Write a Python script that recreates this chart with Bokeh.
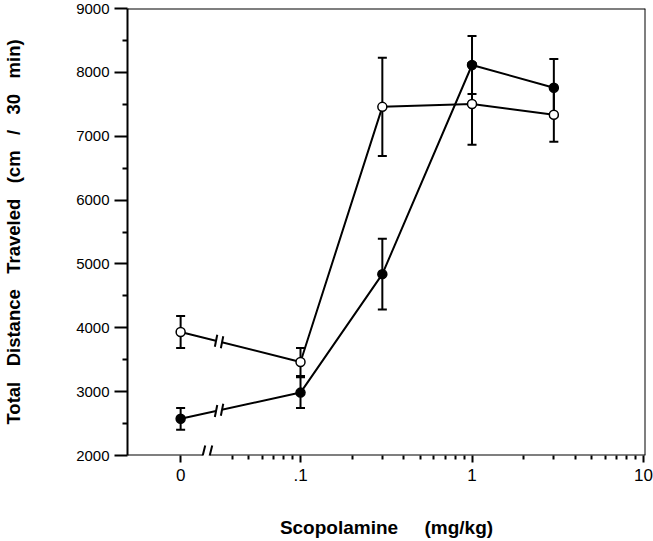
import math
from bokeh.plotting import figure
from bokeh.models import FixedTicker, Span, Arrow, ColumnDataSource
from bokeh.embed import file_html
from bokeh.resources import INLINE

# ---- data ----
doses = [0, 0.1, 0.3, 1, 3]                       # mg/kg
open_mean = [3935, 3465, 7460, 7505, 7335]        # open circles
open_sem = [250, 220, 770, 640, 420]
filled_mean = [2575, 2985, 4840, 8115, 7760]      # filled circles
filled_sem = [170, 240, 555, 455, 450]

y_ticks = [2000, 3000, 4000, 5000, 6000, 7000, 8000, 9000]
y_minor = [2500, 3500, 4500, 5500, 6500, 7500, 8500]
x_tick_doses = [0, 0.1, 1, 10]
x_tick_labels = ["0", ".1", "1", "10"]
x_minor = [0.04, 0.05, 0.06, 0.07, 0.08, 0.09,
           0.2, 0.3, 0.4, 0.5, 0.6, 0.7, 0.8, 0.9,
           2, 3, 4, 5, 6, 7, 8, 9]

NB = "\u00a0"
x_title = "Scopolamine" + NB * 4 + " (mg/kg)"
y_words = ["Total", "Distance", "Traveled", "(cm", "/", "30", "min)"]
y_title = (NB * 2 + " ").join(y_words)

# ---- layout constants ----
ZERO_AT = 0.02          # where dose 0 sits on the log axis
X_MIN, X_MAX = 0.0098, 10.27
Y_MIN, Y_MAX = 2000, 9000
AXIS_BREAK = 0.0282     # break on the x axis
LINE_BREAK = 0.0335     # break on the data lines
FONT = "Liberation Sans"
PX_DEC = 171.5          # pixels per decade
PX_Y = 447 / 7000       # pixels per unit on y


def xpos(d):
    return ZERO_AT if d == 0 else d


p = figure(width=653, height=541, x_axis_type="log",
           x_range=(X_MIN, X_MAX), y_range=(Y_MIN, Y_MAX),
           output_backend="svg", toolbar_location=None,
           min_border_left=127, min_border_right=8,
           min_border_top=8, min_border_bottom=86)
p.outline_line_color = None
p.grid.grid_line_color = None
p.background_fill_color = "white"
p.border_fill_color = "white"

# frame top and right
p.add_layout(Span(location=Y_MAX, dimension="width", line_color="black", line_width=2))
p.add_layout(Span(location=X_MAX, dimension="height", line_color="black", line_width=2))

# ---- axes ----
xa = p.xaxis[0]
xa.ticker = FixedTicker(ticks=[xpos(d) for d in x_tick_doses], minor_ticks=x_minor)
xa.major_label_overrides = {xpos(d): lab for d, lab in zip(x_tick_doses, x_tick_labels)}
xa.axis_line_color = None
xa.major_tick_out = 7
xa.major_tick_in = 0
xa.minor_tick_out = 4
xa.minor_tick_in = 0
xa.major_tick_line_width = 2
xa.minor_tick_line_width = 2
xa.major_label_standoff = 6
xa.major_label_text_font = FONT
xa.major_label_text_font_size = "17px"
xa.major_label_text_color = "black"
xa.axis_label = x_title
xa.axis_label_text_font = FONT
xa.axis_label_text_font_style = "bold"
xa.axis_label_text_font_size = "19px"
xa.axis_label_text_color = "black"
xa.axis_label_standoff = 33

ya = p.yaxis[0]
ya.ticker = FixedTicker(ticks=y_ticks, minor_ticks=y_minor)
ya.axis_line_width = 2
ya.major_tick_out = 13
ya.major_tick_in = 0
ya.minor_tick_out = 5
ya.minor_tick_in = 0
ya.major_tick_line_width = 2
ya.minor_tick_line_width = 2
ya.major_label_standoff = 5
ya.major_label_text_font = FONT
ya.major_label_text_font_size = "15px"
ya.major_label_text_color = "black"
ya.axis_label = y_title
ya.axis_label_text_font = FONT
ya.axis_label_text_font_style = "bold"
ya.axis_label_text_font_size = "18.5px"
ya.axis_label_text_color = "black"
ya.axis_label_standoff = 49

# x axis line with a break
dpx = 10 ** (3.5 / PX_DEC)
p.add_layout(Arrow(end=None, x_start=X_MIN, y_start=Y_MIN, x_end=AXIS_BREAK / dpx, y_end=Y_MIN,
                   line_color="black", line_width=2))
p.add_layout(Arrow(end=None, x_start=AXIS_BREAK * dpx, y_start=Y_MIN, x_end=X_MAX, y_end=Y_MIN,
                   line_color="black", line_width=2))
slant = 10 ** (2.5 / PX_DEC)
dy_ax = 10 / PX_Y
for c in (AXIS_BREAK / dpx, AXIS_BREAK * dpx):
    p.add_layout(Arrow(end=None, x_start=c / slant, y_start=Y_MIN - dy_ax,
                       x_end=c * slant, y_end=Y_MIN + dy_ax,
                       line_color="black", line_width=2))

# ---- series ----
xs = [xpos(d) for d in doses]
for mean, sem, fill in ((filled_mean, filled_sem, "black"), (open_mean, open_sem, "white")):
    src = ColumnDataSource(dict(x=xs, y=mean,
                                lo=[m - s for m, s in zip(mean, sem)],
                                hi=[m + s for m, s in zip(mean, sem)]))
    p.line("x", "y", source=src, line_color="black", line_width=2)

    # break marks on the segment between dose 0 and dose .1
    lx0, lx1 = math.log10(xs[0]), math.log10(xs[1])
    t = (math.log10(LINE_BREAK) - lx0) / (lx1 - lx0)
    yb = mean[0] + t * (mean[1] - mean[0])
    slope = (mean[1] - mean[0]) / (lx1 - lx0)
    g = 3.0 / PX_DEC
    xa0, xa1 = 10 ** (math.log10(LINE_BREAK) - g), 10 ** (math.log10(LINE_BREAK) + g)
    ya0, ya1 = yb - slope * g, yb + slope * g
    p.segment(x0=[xa0], y0=[ya0], x1=[xa1], y1=[ya1], line_color="white", line_width=5)
    s = 1.2 / PX_DEC
    h = 6 / PX_Y
    p.segment(x0=[10 ** (math.log10(xa0) - s), 10 ** (math.log10(xa1) - s)],
              y0=[ya0 - h, ya1 - h],
              x1=[10 ** (math.log10(xa0) + s), 10 ** (math.log10(xa1) + s)],
              y1=[ya0 + h, ya1 + h],
              line_color="black", line_width=2)

    p.segment(x0="x", y0="lo", x1="x", y1="hi", source=src, line_color="black", line_width=2)
    p.scatter("x", "lo", source=src, marker="dash", size=9, line_color="black", line_width=2)
    p.scatter("x", "hi", source=src, marker="dash", size=9, line_color="black", line_width=2)
    p.scatter("x", "y", source=src, marker="circle", size=9,
              fill_color=fill, line_color="black", line_width=1.5)

open("out.html", "w").write(file_html(p, INLINE))
